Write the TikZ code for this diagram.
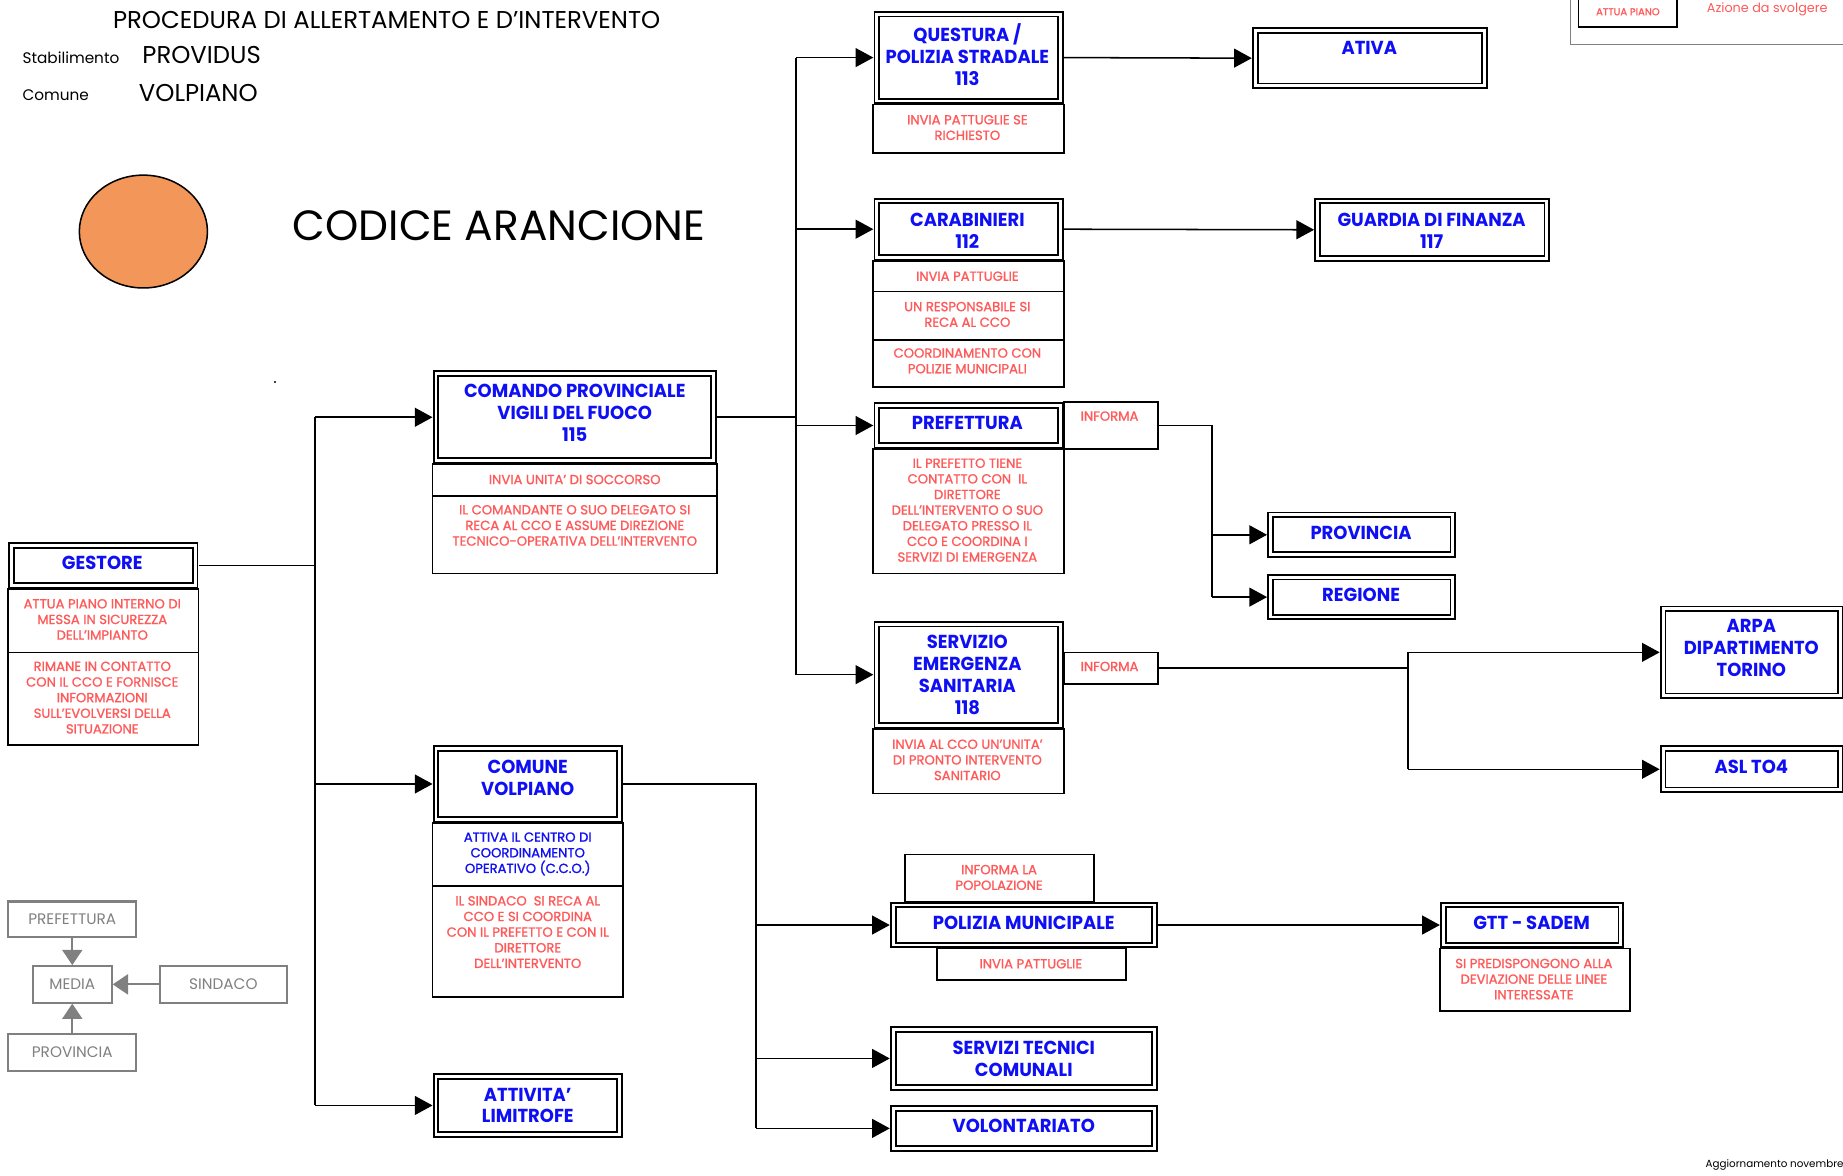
\documentclass[tikz,border=0pt]{standalone}
\usepackage{fontspec}
\setmainfont{Poppins}
\newfontfamily\pf{Poppins}[FakeStretch=0.955]
\newfontfamily\rf{Poppins}[FakeBold=1.2]
\newfontfamily\tf{Poppins}
\usetikzlibrary{arrows.meta,shapes.geometric}
\definecolor{bl}{RGB}{15,15,245}
\definecolor{rd}{RGB}{255,90,90}
\definecolor{gr}{RGB}{128,128,128}
\definecolor{orng}{RGB}{243,150,90}
\tikzset{
 dbl/.style={draw=black, line width=1.6pt, double=white, double distance=2.4pt, inner sep=0pt, outer sep=3pt, fill=white},
 sgl/.style={draw=black, line width=1.4pt, inner sep=0pt, fill=white},
 gbox/.style={draw=gr, line width=1.8pt, inner sep=0pt, fill=white},
 bt/.style={font=\pf\bfseries\fontsize{16}{18.7}\selectfont, text=bl, align=center, inner sep=0pt},
 rt/.style={font=\rf\fontsize{11.2}{13.3}\selectfont, text=rd, align=center, inner sep=0pt},
 bst/.style={font=\rf\fontsize{11.2}{13.3}\selectfont, text=bl, align=center, inner sep=0pt},
 gt/.style={font=\tf\fontsize{13}{14}\selectfont, text=gr, inner sep=0pt},
 hdt/.style={font=\tf\fontsize{20.7}{23}\selectfont, text=black, inner sep=0pt},
 smt/.style={font=\tf\fontsize{13}{14}\selectfont, text=black, inner sep=0pt},
 ln/.style={draw=black, line width=1.3pt},
 arr/.style={draw=black, line width=1.3pt, -{Triangle[length=15pt,width=16pt]}},
 garr/.style={draw=gr, line width=1.8pt, -{Triangle[length=13pt,width=17pt]}},
}
\newcommand\dbx[5]{\node[dbl, minimum width={#4-#2-6}, minimum height={#5-#3-6}] (#1) at ({(#2+#4)/2},{(#3+#5)/2}) {};}
\newcommand\sbx[5]{\node[sgl, minimum width={#4-#2}, minimum height={#5-#3}] (#1) at ({(#2+#4)/2},{(#3+#5)/2}) {};}
\newcommand\gbx[5]{\node[gbox, minimum width={#4-#2}, minimum height={#5-#3}] (#1) at ({(#2+#4)/2},{(#3+#5)/2}) {};}
\newcommand\tx[5]{\node[#2] (#1) at (#3,#4) {#5};}
\begin{document}
\begin{tikzpicture}[x=1pt,y=-1pt]
\useasboundingbox (0,0) rectangle (1568,1000);
\clip (0,0) rectangle (1568,1000);
\fill[white] (0,0) rectangle (1568,1000);

% header texts
\tx{title}{hdt}{329}{17}{PROCEDURA DI ALLERTAMENTO E D’INTERVENTO}
\tx{stab}{smt,anchor=west}{19}{49}{Stabilimento}
\tx{provid}{hdt,anchor=west}{121}{47}{PROVIDUS}
\tx{comL}{smt,anchor=west}{19}{81}{Comune}
\tx{volp}{hdt,anchor=west}{118}{79}{VOLPIANO}
\node[draw=black, line width=1.3pt, fill=orng, ellipse, minimum width=109pt, minimum height=96pt, inner sep=0pt] (circ) at (122,197) {};
\tx{codice}{hdt,font=\tf\fontsize{36}{40}\selectfont,anchor=west}{249}{192}{CODICE ARANCIONE}
\fill (234,325) circle (0.9);

% legend top right
\draw[gr, line width=1.3pt] (1336,-5) -- (1336,38) -- (1575,38);
\sbx{legbox}{1343}{-5}{1427}{23}
\tx{legt}{rt,font=\rf\fontsize{8.5}{9}\selectfont}{1385}{10}{ATTUA PIANO}
\tx{legd}{font=\tf\fontsize{10.9}{12}\selectfont,text=rd,anchor=west,inner sep=0pt}{1452}{8}{Azione da svolgere}

% section boxes
\sbx{gestoreA}{7}{501}{169}{555}
\sbx{gestoreB}{7}{555}{169}{634}
\sbx{comandoA}{368}{395}{610}{422}
\sbx{comandoB}{368}{422}{610}{488}
\sbx{comuneA}{368}{700}{530}{754}
\sbx{comuneB}{368}{754}{530}{848}
\sbx{questuraA}{743}{89}{905}{130}
\sbx{carabA}{743}{222}{905}{248}
\sbx{carabB}{743}{248}{905}{289}
\sbx{carabC}{743}{289}{905}{329}
\sbx{prefA}{743}{382}{905}{488}
\sbx{prefinf}{905}{342}{985}{382}
\sbx{servA}{743}{620}{905}{675}
\sbx{servinf}{905}{555}{985}{582}
\sbx{pmtop}{770}{727}{931}{767}
\sbx{pmbot}{797}{807}{958}{834}
\sbx{gttA}{1225}{807}{1387}{860}

% header boxes
\dbx{gestore}{7}{461}{169}{501}
\dbx{comando}{368}{315}{610}{395}
\dbx{comune}{368}{634}{530}{700}
\dbx{attivita}{368}{913}{530}{968}
\dbx{questura}{743}{9}{905}{89}
\dbx{carab}{743}{168}{905}{222}
\dbx{pref}{743}{342}{905}{382}
\dbx{serv}{743}{528}{905}{620}
\dbx{ativa}{1065}{23}{1266}{76}
\dbx{gdf}{1118}{168}{1319}{223}
\dbx{provincia}{1078}{435}{1239}{475}
\dbx{regione}{1078}{488}{1239}{528}
\dbx{arpa}{1412}{515}{1569}{595}
\dbx{asl}{1412}{634}{1569}{675}
\dbx{pm}{757}{767}{985}{807}
\dbx{gtt}{1225}{767}{1382}{807}
\dbx{servtec}{757}{873}{985}{928}
\dbx{volont}{757}{940}{985}{980}

% connectors
\coordinate (g1) at (268,0);
\coordinate (g2) at (677,0);
\coordinate (g3) at (1031,0);
\coordinate (g4) at (1198,0);
\coordinate (g5) at (643,0);
\draw[ln] (gestore.east) -- (gestore.east -| g1);
\draw[ln] (comando.west -| g1) -- (attivita.west -| g1);
\draw[arr] (comando.west -| g1) -- (comando.west);
\draw[arr] (comune.west -| g1) -- (comune.west);
\draw[arr] (attivita.west -| g1) -- (attivita.west);

\draw[ln] (comando.east) -- (comando.east -| g2);
\draw[ln] (questura.west -| g2) -- (serv.west -| g2);
\draw[arr] (questura.west -| g2) -- (questura.west);
\draw[arr] (carab.west -| g2) -- (carab.west);
\draw[arr] (pref.west -| g2) -- (pref.west);
\draw[arr] (serv.west -| g2) -- (serv.west);

\draw[arr] (questura.east) -- (ativa.west);
\draw[arr] (carab.east) -- (gdf.west);

\draw[ln] (prefinf.east) -- (prefinf.east -| g3) -- (regione.west -| g3);
\draw[arr] (provincia.west -| g3) -- (provincia.west);
\draw[arr] (regione.west -| g3) -- (regione.west);

\draw[ln] (servinf.east) -- (servinf.east -| g4);
\draw[ln] (arpa.west -| g4) -- (asl.west -| g4);
\draw[arr] (arpa.west -| g4) -- (arpa.west);
\draw[arr] (asl.west -| g4) -- (asl.west);

\draw[ln] (comune.east) -- (comune.east -| g5) -- (volont.west -| g5);
\draw[arr] (pm.west -| g5) -- (pm.west);
\draw[arr] (servtec.west -| g5) -- (servtec.west);
\draw[arr] (volont.west -| g5) -- (volont.west);
\draw[arr] (pm.east) -- (gtt.west);

% texts
\tx{tGest}{bt}{87}{479}{GESTORE}
\tx{tGestA}{rt}{87}{527}{ATTUA PIANO INTERNO DI\\MESSA IN SICUREZZA\\DELL’IMPIANTO}
\tx{tGestB}{rt}{87}{593.5}{RIMANE IN CONTATTO\\CON IL CCO E FORNISCE\\INFORMAZIONI\\SULL’EVOLVERSI DELLA\\SITUAZIONE}
\tx{tCom}{bt}{489}{351}{COMANDO PROVINCIALE\\VIGILI DEL FUOCO\\115}
\tx{tComA}{rt}{489}{408}{INVIA UNITA’ DI SOCCORSO}
\tx{tComB}{rt}{489}{447}{IL COMANDANTE O SUO DELEGATO SI\\RECA AL CCO E ASSUME DIREZIONE\\TECNICO-OPERATIVA DELL’INTERVENTO}
\tx{tCmn}{bt}{449}{661.5}{COMUNE\\VOLPIANO}
\tx{tCmnA}{bst}{449}{726.5}{ATTIVA IL CENTRO DI\\COORDINAMENTO\\OPERATIVO (C.C.O.)}
\tx{tCmnB}{rt}{449}{793}{IL SINDACO~ SI RECA AL\\CCO E SI COORDINA\\CON IL PREFETTO E CON IL\\DIRETTORE\\DELL’INTERVENTO}
\tx{tAtt}{bt}{449}{940.5}{ATTIVITA’\\LIMITROFE}
\tx{tQue}{bt}{823}{46.5}{QUESTURA /\\POLIZIA STRADALE\\113}
\tx{tQueA}{rt}{823}{108.5}{INVIA PATTUGLIE SE\\RICHIESTO}
\tx{tCar}{bt}{823}{196}{CARABINIERI\\112}
\tx{tCarA}{rt}{823}{235}{INVIA PATTUGLIE}
\tx{tCarB}{rt}{823}{267.5}{UN RESPONSABILE SI\\RECA AL CCO}
\tx{tCarC}{rt}{823}{307}{COORDINAMENTO CON\\POLIZIE MUNICIPALI}
\tx{tPref}{bt}{823}{360}{PREFETTURA}
\tx{tPrefA}{rt}{823}{434}{IL PREFETTO TIENE\\CONTATTO CON~ IL\\DIRETTORE\\DELL’INTERVENTO O SUO\\DELEGATO PRESSO IL\\CCO E COORDINA I\\SERVIZI DI EMERGENZA}
\tx{tPrefI}{rt}{944}{354}{INFORMA}
\tx{tServ}{bt}{823}{574}{SERVIZIO\\EMERGENZA\\SANITARIA\\118}
\tx{tServA}{rt}{823}{646.5}{INVIA AL CCO UN’UNITA’\\DI PRONTO INTERVENTO\\SANITARIO}
\tx{tServI}{rt}{944}{567}{INFORMA}
\tx{tAtiva}{bt}{1165}{41}{ATIVA}
\tx{tGdf}{bt}{1218}{196}{GUARDIA DI FINANZA\\117}
\tx{tProv}{bt}{1158}{453}{PROVINCIA}
\tx{tReg}{bt}{1158}{506}{REGIONE}
\tx{tArpa}{bt}{1490}{551.5}{ARPA\\DIPARTIMENTO\\TORINO}
\tx{tAsl}{bt}{1490}{652}{ASL TO4}
\tx{tPm}{bt}{871}{785}{POLIZIA MUNICIPALE}
\tx{tPmT}{rt}{850}{746.5}{INFORMA LA\\POPOLAZIONE}
\tx{tPmB}{rt}{877}{820}{INVIA PATTUGLIE}
\tx{tGtt}{bt}{1303}{785}{GTT - SADEM}
\tx{tGttA}{rt}{1305}{833}{SI PREDISPONGONO ALLA\\DEVIAZIONE DELLE LINEE\\INTERESSATE}
\tx{tSt}{bt}{871}{900.5}{SERVIZI TECNICI\\COMUNALI}
\tx{tVol}{bt}{871}{958}{VOLONTARIATO}

% legend bottom left
\gbx{lPref}{7}{767}{116}{797}
\gbx{lMedia}{28}{822}{95}{853}
\gbx{lSind}{136}{822}{244}{853}
\gbx{lProv}{7}{880}{116}{911}
\tx{tlPref}{gt}{61.5}{782}{PREFETTURA}
\tx{tlMedia}{gt}{61.5}{837.5}{MEDIA}
\tx{tlSind}{gt}{190}{837.5}{SINDACO}
\tx{tlProv}{gt}{61.5}{895.5}{PROVINCIA}
\draw[garr] (lPref.south) -- (lMedia.north);
\draw[garr] (lProv.north) -- (lMedia.south);
\draw[garr] (lSind.west) -- (lMedia.east);

\tx{foot}{font=\tf\fontsize{8.8}{10}\selectfont,text=black,anchor=west,inner sep=0pt}{1451}{991}{Aggiornamento novembre}
\end{tikzpicture}
\end{document}
